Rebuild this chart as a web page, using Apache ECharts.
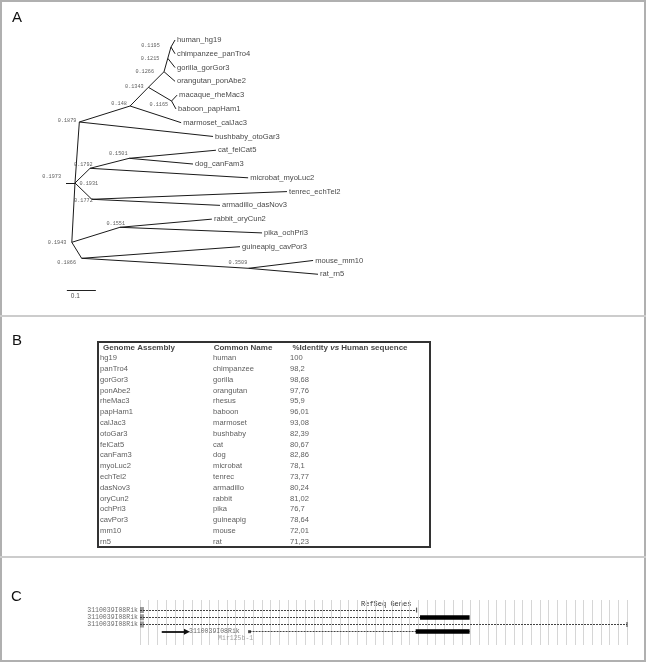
<!DOCTYPE html>
<html><head><meta charset="utf-8">
<script src="https://cdn.jsdelivr.net/npm/echarts@6/dist/echarts.min.js"></script>
<style>html,body{margin:0;padding:0;background:#fff}#c{width:646px;height:662px}</style>
</head><body><div id="c"></div>
<script>
// ---------- Panel A: tree data ----------
const leafNames = ['human_hg19','chimpanzee_panTro4','gorilla_gorGor3','orangutan_ponAbe2','macaque_rheMac3','baboon_papHam1','marmoset_calJac3','bushbaby_otoGar3','cat_felCat5','dog_canFam3','microbat_myoLuc2','tenrec_echTel2','armadillo_dasNov3','rabbit_oryCun2','pika_ochPri3','guineapig_cavPor3','mouse_mm10','rat_rn5'];
const leafDepth = [0.376,0.376,0.376,0.376,0.383,0.379,0.397,0.507,0.517,0.438,0.628,0.762,0.531,0.503,0.676,0.600,0.852,0.869];
const nodeIds = ['n1195','n1215','n1266','n1343','n1165','n148','n1879','root','hub','n1792','n1501','n1772','n1943','n1551','n1866','n3509'];
const nodeValues = ['0.1195','0.1215','0.1266','0.1343','0.1165','0.148','0.1879','0.1973','0.1931','0.1792','0.1501','0.1772','0.1943','0.1551','0.1866','0.3509'];
const nodeDepth = [0.362,0.351,0.338,0.284,0.364,0.221,0.046,0.000,0.031,0.083,0.218,0.089,0.020,0.186,0.054,0.629];
const nodeRow = [0.508,1.328,2.300,3.433,4.427,4.790,5.951,10.377,10.377,9.311,8.585,11.560,14.681,13.592,15.842,16.568];
const treeEdges = [
  ['n1195','human_hg19'],['n1195','chimpanzee_panTro4'],['n1215','n1195'],['n1215','gorilla_gorGor3'],
  ['n1266','n1215'],['n1266','orangutan_ponAbe2'],['n1343','n1266'],['n1343','n1165'],
  ['n1165','macaque_rheMac3'],['n1165','baboon_papHam1'],['n148','n1343'],['n148','marmoset_calJac3'],
  ['n1879','n148'],['n1879','bushbaby_otoGar3'],['hub','n1879'],['hub','n1943'],['root','hub'],
  ['hub','n1792'],['hub','n1772'],['n1792','n1501'],['n1792','microbat_myoLuc2'],
  ['n1501','cat_felCat5'],['n1501','dog_canFam3'],['n1772','tenrec_echTel2'],['n1772','armadillo_dasNov3'],
  ['n1943','n1551'],['n1943','n1866'],['n1551','rabbit_oryCun2'],['n1551','pika_ochPri3'],
  ['n1866','guineapig_cavPor3'],['n1866','n3509'],['n3509','mouse_mm10'],['n3509','rat_rn5']
];
const scaleBarLength = 0.1;

// ---------- Panel B: table data ----------
const tableHeaders = ['Genome Assembly','Common Name','%Identity vs Human sequence'];
const assemblies = ['hg19','panTro4','gorGor3','ponAbe2','rheMac3','papHam1','calJac3','otoGar3','felCat5','canFam3','myoLuc2','echTel2','dasNov3','oryCun2','ochPri3','cavPor3','mm10','rn5'];
const commonNames = ['human','chimpanzee','gorilla','orangutan','rhesus','baboon','marmoset','bushbaby','cat','dog','microbat','tenrec','armadillo','rabbit','pika','guineapig','mouse','rat'];
const identityPct = [100,98.2,98.68,97.76,95.9,96.01,93.08,82.39,80.67,82.86,78.1,73.77,80.24,81.02,76.7,78.64,72.01,71.23];

// ---------- Panel C: gene track data ----------
const trackTitle = 'RefSeq Genes';
const transcriptNames = ['3110039I08Rik','3110039I08Rik','3110039I08Rik','3110039I08Rik'];
const transcriptStart = [0,0,0,12.6];
const transcriptEnd = [31.8,37.9,56,37.9];
const exonRow = [1,3];
const exonStart = [32.2,31.7];
const exonEnd = [37.9,37.9];
const mirName = 'Mir125b-1';
const mirPos = 11.0;

// ---------- layout / style (not data) ----------
const nodeLabelOffset = [[-20.5,-1.3],[-17.7,0.7],[-19.3,0],[-14,-0.6],[-12.7,4],[-11,-2],[-12.3,-1.3],[-14.3,-6.3],[13.8,0.3],[-6.7,-4],[-11,-4.3],[-8.4,1.4],[-14.7,0],[-4.2,-4],[-15,4],[-10.5,-6]];
const scaleBarAt = [0.003, 18.14];
const colAnchor = [2, 115, 192];
const headerAnchor = [41, 145, 252];
const arrowSpan = [2.5, 5.4];

function posOf(id){
  const li = leafNames.indexOf(id);
  if (li >= 0) return [leafDepth[li], li];
  const ni = nodeIds.indexOf(id);
  return [nodeDepth[ni], nodeRow[ni]];
}

const SANS = 'Liberation Sans, Arial, sans-serif';
const MONO = 'Liberation Mono, DejaVu Sans Mono, monospace';

const chart = echarts.init(document.getElementById('c'), null, {renderer:'canvas'});

const hidden = {show:false};
const option = {
  animation: false,
  backgroundColor: '#fff',
  grid: [
    {left: 66, top: 12.44, width: 261, height: 289.38},
    {left: 98, top: 342, width: 332, height: 205, show: true, borderColor: '#333', borderWidth: 2, backgroundColor: 'transparent'},
    {left: 140, top: 600, width: 487, height: 45}
  ],
  xAxis: [
    {gridIndex:0, type:'value', min:0, max:0.9, show:false},
    {gridIndex:1, type:'value', min:0, max:332, show:false},
    {gridIndex:2, type:'value', min:0, max:56, interval:1, axisLine:hidden, axisTick:hidden, axisLabel:hidden,
      splitLine:{show:true, lineStyle:{color:'#d6d6d6', width:1}}}
  ],
  yAxis: [
    {gridIndex:0, type:'value', min:-2, max:19, inverse:true, show:false},
    {gridIndex:1, type:'value', min:-0.5, max:18.5, inverse:true, show:false},
    {gridIndex:2, type:'value', min:-1.4, max:4.85, inverse:true, show:false}
  ],
  graphic: [
    {type:'rect', shape:{x:1, y:1, width:644, height:660}, style:{fill:'none', stroke:'#b0b0b0', lineWidth:2}, z:0},
    {type:'line', shape:{x1:0, y1:316, x2:646, y2:316}, style:{stroke:'#cccccc', lineWidth:2}},
    {type:'line', shape:{x1:0, y1:557, x2:646, y2:557}, style:{stroke:'#cccccc', lineWidth:2}},
    {type:'text', left:12, top:10, style:{text:'A', font:'15px '+SANS, fill:'#111'}},
    {type:'text', left:12, top:333, style:{text:'B', font:'15px '+SANS, fill:'#111'}},
    {type:'text', left:11, top:589, style:{text:'C', font:'15px '+SANS, fill:'#111'}},
    {type:'text', left:361, top:601, style:{text:trackTitle, font:'7px '+MONO, fill:'#333'}}
  ],
  series: [
    // tree branches
    {type:'lines', coordinateSystem:'cartesian2d', xAxisIndex:0, yAxisIndex:0, silent:true,
      lineStyle:{color:'#1a1a1a', width:1, opacity:1},
      data: treeEdges.map(e => ({coords:[posOf(e[0]), posOf(e[1])]}))},
    // leaf labels
    {type:'scatter', xAxisIndex:0, yAxisIndex:0, symbolSize:0.1, silent:true,
      data: leafNames.map((n,i) => [leafDepth[i], i, n]),
      label:{show:true, position:'right', distance:2, formatter:p=>p.value[2], fontSize:7.6, fontFamily:SANS, color:'#111'}},
    // internal node values
    {type:'scatter', xAxisIndex:0, yAxisIndex:0, symbolSize:0.1, silent:true,
      data: nodeIds.map((n,i) => ({value:[nodeDepth[i], nodeRow[i], nodeValues[i]], label:{offset:nodeLabelOffset[i]}})),
      label:{show:true, position:'inside', formatter:p=>p.value[2], fontSize:5.2, fontFamily:MONO, color:'#333'}},
    // scale bar
    {type:'lines', coordinateSystem:'cartesian2d', xAxisIndex:0, yAxisIndex:0, silent:true,
      lineStyle:{color:'#222', width:1, opacity:1},
      data:[{coords:[[scaleBarAt[0], scaleBarAt[1]], [scaleBarAt[0]+scaleBarLength, scaleBarAt[1]]]}]},
    {type:'scatter', xAxisIndex:0, yAxisIndex:0, symbolSize:0.1, silent:true,
      data:[[scaleBarAt[0]+scaleBarLength/2, scaleBarAt[1], String(scaleBarLength)]],
      label:{show:true, position:'inside', offset:[-6,6], formatter:p=>p.value[2], fontSize:6.5, fontFamily:SANS, color:'#222'}},

    // table headers
    {type:'scatter', xAxisIndex:1, yAxisIndex:1, symbolSize:0.1, silent:true,
      data: tableHeaders.map((h,i) => [headerAnchor[i], 0, h]),
      label:{show:true, position:'inside', fontSize:8, fontFamily:SANS, fontWeight:'bold', color:'#111',
        formatter: p => {
          const t = p.value[2];
          if (t.indexOf(' vs ') >= 0) { const parts = t.split(' vs '); return '{b|'+parts[0]+' }{i|vs}{b| '+parts[1]+'}'; }
          return '{b|'+t+'}';
        },
        rich:{b:{fontSize:8, fontFamily:SANS, fontWeight:'bold', color:'#111'}, i:{fontSize:8, fontFamily:SANS, fontWeight:'bold', fontStyle:'italic', color:'#111'}}}},
    // table columns
    {type:'scatter', xAxisIndex:1, yAxisIndex:1, symbolSize:0.1, silent:true,
      data: assemblies.map((a,i) => [colAnchor[0], i+1, a]),
      label:{show:true, position:'right', distance:0, formatter:p=>p.value[2], fontSize:7.6, fontFamily:SANS, color:'#333'}},
    {type:'scatter', xAxisIndex:1, yAxisIndex:1, symbolSize:0.1, silent:true,
      data: commonNames.map((a,i) => [colAnchor[1], i+1, a]),
      label:{show:true, position:'right', distance:0, formatter:p=>p.value[2], fontSize:7.6, fontFamily:SANS, color:'#333'}},
    {type:'scatter', xAxisIndex:1, yAxisIndex:1, symbolSize:0.1, silent:true,
      data: identityPct.map((v,i) => [colAnchor[2], i+1, String(v).replace('.', ',')]),
      label:{show:true, position:'right', distance:0, formatter:p=>p.value[2], fontSize:7.6, fontFamily:SANS, color:'#333'}},

    // gene track: transcripts
    {type:'lines', coordinateSystem:'cartesian2d', xAxisIndex:2, yAxisIndex:2, silent:true,
      lineStyle:{color:'#444', width:1.2, type:[2,1], opacity:1},
      data: transcriptStart.map((s,i) => ({coords:[[s,i],[transcriptEnd[i],i]]}))},
    // exons
    {type:'lines', coordinateSystem:'cartesian2d', xAxisIndex:2, yAxisIndex:2, silent:true,
      lineStyle:{color:'#000', width:4.5, opacity:1, cap:'butt'},
      data: exonRow.map((r,i) => ({coords:[[exonStart[i],r],[exonEnd[i],r]]}))},
    // transcript start markers (rows labelled on the left)
    {type:'scatter', xAxisIndex:2, yAxisIndex:2, silent:true, symbol:'rect', symbolSize:[1.2,6],
      itemStyle:{color:'#333'}, symbolOffset:[1,0],
      data: transcriptStart.slice(0,3).map((s,i)=>[s,i])},
    {type:'scatter', xAxisIndex:2, yAxisIndex:2, silent:true, symbol:'rect', symbolSize:[1.2,6],
      itemStyle:{color:'#333'}, symbolOffset:[3,0],
      data: transcriptStart.slice(0,3).map((s,i)=>[s,i])},
    // end markers
    {type:'scatter', xAxisIndex:2, yAxisIndex:2, silent:true, symbol:'rect', symbolSize:[1.2,5],
      itemStyle:{color:'#333'},
      data: [[transcriptEnd[0],0],[transcriptEnd[2],2]]},
    {type:'scatter', xAxisIndex:2, yAxisIndex:2, silent:true, symbol:'rect', symbolSize:3,
      itemStyle:{color:'#222'},
      data: [[transcriptStart[3],3]]},
    // transcript labels on the left
    {type:'scatter', xAxisIndex:2, yAxisIndex:2, symbolSize:0.1, silent:true,
      data: transcriptNames.slice(0,3).map((n,i)=>[transcriptStart[i], i, n]),
      label:{show:true, position:'left', distance:2, formatter:p=>p.value[2], fontSize:6.5, fontFamily:MONO, color:'#444'}},
    // featured gene arrow and label
    {type:'lines', coordinateSystem:'cartesian2d', xAxisIndex:2, yAxisIndex:2, silent:true,
      symbol:['none','triangle'], symbolSize:6,
      lineStyle:{color:'#111', width:1.8, opacity:1},
      data:[{coords:[[arrowSpan[0],3],[arrowSpan[1],3]]}]},
    {type:'scatter', xAxisIndex:2, yAxisIndex:2, symbolSize:0.1, silent:true,
      data:[[arrowSpan[1], 3, transcriptNames[3]]],
      label:{show:true, position:'right', distance:2, formatter:p=>p.value[2], fontSize:6.5, fontFamily:MONO, color:'#444'}},
    {type:'scatter', xAxisIndex:2, yAxisIndex:2, symbolSize:0.1, silent:true,
      data:[[mirPos, 3.9, mirName]],
      label:{show:true, position:'inside', formatter:p=>p.value[2], fontSize:6.5, fontFamily:MONO, color:'#888'}}
  ]
};
chart.setOption(option);
</script></body></html>
